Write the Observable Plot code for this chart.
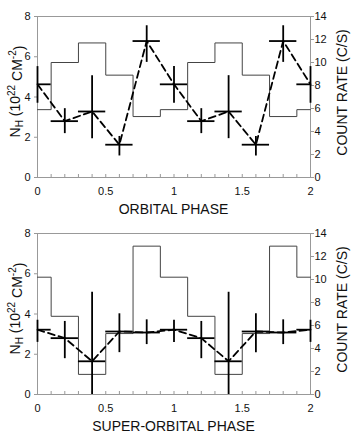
<!DOCTYPE html>
<html>
<head>
<meta charset="utf-8">
<script src="https://cdn.jsdelivr.net/npm/d3@7"></script>
<script src="https://cdn.jsdelivr.net/npm/@observablehq/plot@0.6"></script>
<style>
  html, body { margin: 0; padding: 0; background: #fff; }
  #chart { width: 354px; }
  #chart svg { display: block; font-family: "Liberation Sans", Arial, sans-serif; }
</style>
</head>
<body>
<div id="chart"></div>
<script>
// ---- data ----
const phase = [0, 0.2, 0.4, 0.6, 0.8, 1.0, 1.2, 1.4, 1.6, 1.8, 2.0];
const xTicks = [0, 0.5, 1, 1.5, 2];
const nhTicks = [0, 2, 4, 6, 8];
const rateTicks = [0, 2, 4, 6, 8, 10, 12, 14];

// Orbital phase panel
const orbNh   = [4.63, 2.80, 3.28, 1.63, 6.78, 4.63, 2.80, 3.28, 1.63, 6.78, 4.63];
const orbNhLo = [3.69, 2.18, 1.93, 1.07, 5.72, 3.69, 2.18, 1.93, 1.07, 5.72, 3.69];
const orbNhHi = [5.51, 3.42, 5.06, 2.04, 7.54, 5.51, 3.42, 5.06, 2.04, 7.54, 5.51];
const orbRate = [5.9, 10.0, 11.7, 8.9, 5.3, 5.9, 10.0, 11.7, 8.9, 5.3, 5.9];

// Super-orbital phase panel
const supNh   = [3.22, 2.80, 1.65, 3.13, 3.08, 3.22, 2.80, 1.65, 3.13, 3.08, 3.22];
const supNhLo = [2.59, 1.78, 0.00, 2.08, 2.48, 2.59, 1.78, 0.00, 2.08, 2.48, 2.59];
const supNhHi = [3.69, 3.63, 5.08, 4.01, 3.71, 3.69, 3.63, 5.08, 4.01, 3.71, 3.69];
const supRate = [10.2, 6.8, 1.75, 5.3, 12.9, 10.2, 6.8, 1.75, 5.3, 12.9, 10.2];

const binWidth = 0.2;
const nhMax = 8, rateMax = 14;
const toNh = r => r * nhMax / rateMax;   // right-axis (count rate) mapped onto left scale

function panel({nh, lo, hi, rate, xLabel, marginTop, marginBottom}) {
  const pts = phase.map((p, i) => ({p, nh: nh[i], lo: lo[i], hi: hi[i]}));
  // step outline of the count-rate histogram (bins centred on each phase)
  const steps = phase.map((p, i) => ({x: Math.max(0, p - binWidth / 2), r: rate[i]}));
  steps.push({x: 2, r: rate[rate.length - 1]});
  const minor = d3.range(0, 21).map(i => i / 10);
  const H = 218;
  const frameH = H - marginTop - marginBottom;

  const svg = Plot.plot({
    width: 354, height: H,
    marginLeft: 37, marginRight: 44, marginTop, marginBottom,
    style: {fontFamily: '"Liberation Sans", Arial, sans-serif', background: "white"},
    x: {domain: [0, 2]},
    y: {domain: [0, nhMax]},
    marks: [
      Plot.frame({stroke: "#999"}),
      Plot.tickX(minor, {x: d => d, stroke: "#999", insetTop: frameH - 3}),
      Plot.axisX({ticks: xTicks, tickSize: 0, tickPadding: 10, fontSize: 11, fill: "#111",
                  tickFormat: d3.format("~g"), label: null}),
      Plot.axisY({ticks: nhTicks, tickSize: 3, tickPadding: 4, fontSize: 11, fill: "#111",
                  stroke: "#999", label: null}),
      Plot.axisY({anchor: "right", ticks: rateTicks.map(toNh), tickSize: 3, tickPadding: 1,
                  fontSize: 11, fill: "#111", stroke: "#999", label: null,
                  tickFormat: v => String(Math.round(v * rateMax / nhMax))}),
      Plot.line(steps, {x: "x", y: d => toNh(d.r), curve: "step-after", stroke: "#444", strokeWidth: 1}),
      Plot.line(pts, {x: "p", y: "nh", stroke: "black", strokeWidth: 1.8, strokeDasharray: "7,4"}),
      Plot.ruleX(pts, {x: "p", y1: "lo", y2: "hi", stroke: "black", strokeWidth: 1.8}),
      Plot.ruleY(pts, {y: "nh", x1: d => d.p - binWidth / 2, x2: d => d.p + binWidth / 2,
                       stroke: "black", strokeWidth: 1.8, clip: true})
    ]
  });

  const s = d3.select(svg);
  const cx = 37 + (354 - 37 - 44) / 2;
  const cy = marginTop + frameH / 2;
  // x-axis title
  s.append("text")
    .attr("x", cx).attr("y", marginTop + frameH + 37)
    .attr("text-anchor", "middle").attr("font-size", 14).attr("fill", "#111")
    .text(xLabel);
  // left title: N_H (10^22 CM^-2)
  const lt = s.append("text")
    .attr("transform", `translate(15,${cy - 5}) rotate(-90)`)
    .attr("text-anchor", "middle").attr("dominant-baseline", "central")
    .attr("font-size", 14).attr("fill", "#111");
  lt.append("tspan").text("N");
  lt.append("tspan").attr("font-size", 10).attr("dy", "0.35em").text("H");
  lt.append("tspan").attr("dy", "-0.25em").text(" (10");
  lt.append("tspan").attr("font-size", 10).attr("dy", "-0.45em").text("22");
  lt.append("tspan").attr("dy", "0.45em").text(" CM");
  lt.append("tspan").attr("font-size", 10).attr("dy", "-0.45em").text("-2");
  lt.append("tspan").attr("dy", "0.45em").text(")");
  // right title
  s.append("text")
    .attr("transform", `translate(342,${cy - 4}) rotate(-90)`)
    .attr("text-anchor", "middle").attr("dominant-baseline", "central")
    .attr("font-size", 14).attr("fill", "#111")
    .text("COUNT RATE (C/S)");
  return svg;
}

const root = document.getElementById("chart");
root.appendChild(panel({nh: orbNh, lo: orbNhLo, hi: orbNhHi, rate: orbRate,
  xLabel: "ORBITAL PHASE", marginTop: 16, marginBottom: 41}));
root.appendChild(panel({nh: supNh, lo: supNhLo, hi: supNhHi, rate: supRate,
  xLabel: "SUPER-ORBITAL PHASE", marginTop: 15, marginBottom: 42}));
</script>
</body>
</html>
